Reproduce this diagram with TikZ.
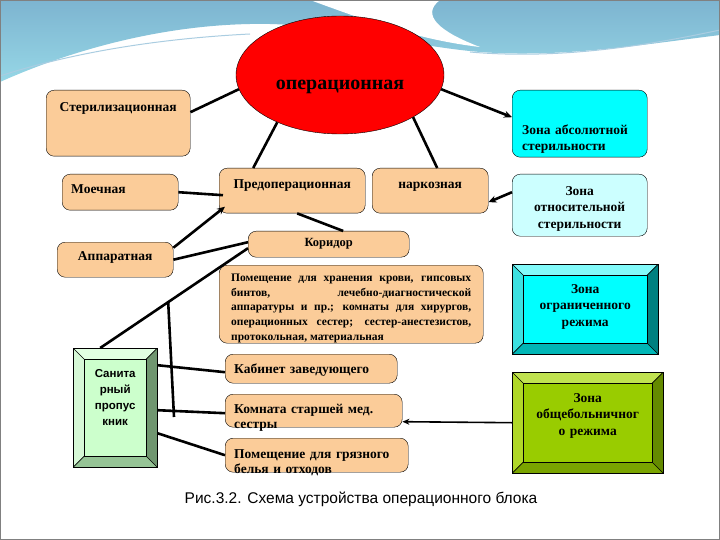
\documentclass[tikz,border=0pt]{standalone}
\usepackage{fontspec}
\setmainfont{Liberation Serif}
\setsansfont{Liberation Sans}
\usepackage{tikz}
\usetikzlibrary{arrows.meta,shapes.geometric}
\definecolor{peach}{RGB}{251,204,153}
\definecolor{zoneabs}{RGB}{0,255,255}
\definecolor{zoneotn}{RGB}{204,255,255}
\definecolor{opred}{RGB}{255,0,0}
\definecolor{wavetop}{RGB}{125,180,208}
\definecolor{wavebot}{RGB}{150,215,230}
\definecolor{waveline}{RGB}{170,205,225}
\definecolor{sanface}{RGB}{204,255,204}
\definecolor{santop}{RGB}{226,255,226}
\definecolor{sanleft}{RGB}{214,248,214}
\definecolor{sanright}{RGB}{112,150,112}
\definecolor{sanbot}{RGB}{150,196,150}
\definecolor{ogrtop}{RGB}{130,250,250}
\definecolor{ogrleft}{RGB}{60,225,225}
\definecolor{ogrright}{RGB}{0,128,128}
\definecolor{ogrbot}{RGB}{0,182,182}
\definecolor{obface}{RGB}{153,204,0}
\definecolor{obtop}{RGB}{192,226,80}
\definecolor{obleft}{RGB}{176,216,40}
\definecolor{obright}{RGB}{100,138,0}
\definecolor{obbot}{RGB}{122,164,0}
\newcommand{\boxfont}{\fontsize{13.5}{16.5}\selectfont\bfseries}
\newcommand{\smallboxfont}{\fontsize{11.5}{14.6}\selectfont\bfseries}

\begin{document}
\begin{tikzpicture}[x=1pt,y=-1pt,
    room/.style={draw=black,fill=peach,rounded corners=8pt,inner xsep=9pt,inner ysep=0pt,
      anchor=north west,font=\boxfont},
    bevel/.style n args={5}{draw=black,fill=#1,inner xsep=12pt,inner ysep=0pt,anchor=north west,
      align=center,font=\boxfont,
      path picture={
        \coordinate (nw) at (path picture bounding box.north west);
        \coordinate (ne) at (path picture bounding box.north east);
        \coordinate (sw) at (path picture bounding box.south west);
        \coordinate (se) at (path picture bounding box.south east);
        \fill[#2] (nw) -- (ne) -- ([shift={(-11pt,-11pt)}]ne) -- ([shift={(11pt,-11pt)}]nw) -- cycle;
        \fill[#3] (nw) -- ([shift={(11pt,-11pt)}]nw) -- ([shift={(11pt,11pt)}]sw) -- (sw) -- cycle;
        \fill[#4] (ne) -- (se) -- ([shift={(-11pt,11pt)}]se) -- ([shift={(-11pt,-11pt)}]ne) -- cycle;
        \fill[#5] (sw) -- ([shift={(11pt,11pt)}]sw) -- ([shift={(-11pt,11pt)}]se) -- (se) -- cycle;
        \draw[black,line width=0.6pt] ([shift={(11pt,-11pt)}]nw) rectangle ([shift={(-11pt,11pt)}]se);
        \draw[black,line width=0.6pt] (nw) -- ++(11pt,-11pt) (ne) -- ++(-11pt,-11pt)
          (sw) -- ++(11pt,11pt) (se) -- ++(-11pt,11pt);
      }},
    conn/.style={black,line width=2.6pt},
    arr/.style={-{Stealth[length=8pt,width=7pt]}}]

  \useasboundingbox (0,0) rectangle (720,540);
  \fill[white] (0,0) rectangle (720,540);
  \shade[top color=wavetop,bottom color=wavebot] (0,0) -- (720,0) -- (720,35)
    .. controls (640,45) and (560,58) .. (480,52)
    .. controls (400,45) and (330,22) .. (250,24)
    .. controls (150,26) and (60,55) .. (0,82) -- cycle;
  \fill[white] (310,0) .. controls (370,22) and (420,40) .. (480,47)
    .. controls (440,32) and (420,15) .. (440,0) -- cycle;
  \draw[waveline,line width=1pt] (0,76) .. controls (80,50) and (170,38) .. (250,34);
  \draw[waveline,line width=1pt] (470,52) .. controls (560,60) and (650,45) .. (720,30);
  \draw[gray,line width=1.2pt] (0,0) rectangle (720,540);

  \node[ellipse,draw=black,fill=opred,minimum width=208pt,minimum height=118pt,inner sep=0pt,
    text height=30pt,text depth=0pt,font=\fontsize{20}{24}\selectfont\bfseries] (oper) at (340,75) {операционная};

  \node[room,minimum width=144pt,text height=21pt,text depth=45pt] (ster) at (46,90) {Стерилизационная};
  \node[room,fill=zoneabs,inner xsep=10pt,text width=115pt,align=left,text height=44pt,text depth=23pt]
    (absol) at (512,90) {Зона абсолютной\\стерильности};
  \node[room,text width=98pt,align=left,text height=19pt,text depth=17pt] (moech) at (62,174) {Моечная};
  \node[room,minimum width=146pt,text height=20pt,text depth=25pt] (preop) at (219,168) {Предоперационная};
  \node[room,minimum width=116pt,text height=20pt,text depth=25pt] (narkoz) at (372,168) {наркозная};
  \node[room,fill=zoneotn,inner xsep=10pt,text width=115pt,align=center,text height=21pt,text depth=41pt]
    (otnos) at (512,174) {Зона\\относительной\\стерильности};
  \node[room,minimum width=161pt,text height=15.5pt,text depth=10.5pt,
    font=\fontsize{12.5}{15}\selectfont\bfseries] (korid) at (248,231) {Коридор};
  \node[room,minimum width=116pt,text height=18pt,text depth=17pt] (appar) at (57,242) {Аппаратная};
  \node[room,inner xsep=12pt,text width=240pt,align=justify,text height=16.5pt,text depth=61.5pt,
    font=\smallboxfont] (hran) at (219,265)
    {Помещение для хранения крови, гипсовых\linebreak
     бинтов, лечебно-диагностической\linebreak
     аппаратуры и пр.; комнаты для хирургов,\linebreak
     операционных сестер; сестер-анестезистов,\linebreak
     протокольная, материальная};
  \node[room,text width=154pt,align=left,text height=19pt,text depth=10pt] (kabin) at (225,354) {Кабинет заведующего};
  \node[room,text width=159pt,align=left,text height=19pt,text depth=14pt,
    font=\fontsize{13.5}{15.5}\selectfont\bfseries] (komn) at (225,394) {Комната старшей мед.\\сестры};
  \node[room,text width=165pt,align=left,text height=20pt,text depth=14pt,
    font=\fontsize{13.5}{15}\selectfont\bfseries] (gryaz) at (225,438) {Помещение для грязного\\белья и отходов};

  \node[bevel={sanface}{santop}{sanleft}{sanright}{sanbot},
    text width=60pt,text height=29pt,text depth=90pt,font=\sffamily\bfseries\fontsize{11.5}{16}\selectfont]
    (sanit) at (73,348) {Санита\\рный\\пропус\\кник};
  \node[bevel={zoneabs}{ogrtop}{ogrleft}{ogrright}{ogrbot},
    text width=122pt,text height=29pt,text depth=61pt] (ogran) at (512,264) {Зона\\ограниченного\\режима};
  \node[bevel={obface}{obtop}{obleft}{obright}{obbot},
    text width=127pt,text height=30pt,text depth=71pt] (obsch) at (512,372) {Зона\\общебольничног\\о режима};

  \node[anchor=base,font=\sffamily\fontsize{15.5}{18}\selectfont] (cap) at (361,503)
    {Рис.3.2. Схема устройства операционного блока};

  \path[conn]
    ([yshift=11pt]ster.east) edge (oper.188)
    (oper.-8) edge[arr] ([yshift=6.5pt]absol.west)
    (oper.217) edge ([xshift=-39pt]preop.north)
    (oper.-30) edge ([xshift=7pt]narkoz.north)
    (moech.east) edge ([xshift=4pt,yshift=-4.5pt]preop.west)
    ([yshift=12pt]appar.east) edge[arr] ([xshift=6pt,yshift=-16pt]preop.west)
    (appar.east) edge ([yshift=2pt]korid.west)
    ([xshift=5pt]preop.south) edge ([xshift=14.5pt]korid.north)
    ([yshift=13pt]otnos.west) edge[arr] ([yshift=-11.5pt]narkoz.east)
    ([yshift=42.5pt]sanit.east) edge ([yshift=-3.5pt]kabin.west)
    ([yshift=-2.5pt]sanit.east) edge ([yshift=-2.5pt]komn.west)
    ([yshift=-25.5pt]sanit.east) edge (gryaz.west);
  \draw[conn] ([yshift=-4pt]korid.west) -- coordinate[pos=0.54] (kj) ([xshift=-15pt]sanit.north);
  \coordinate (kend) at (174,417);
  \draw[conn] (kj) -- (kend);
  \path[black,line width=1.6pt] (obsch.west) edge[-{Stealth[length=7pt,width=6pt]}] ([yshift=-11pt]komn.east);

\end{tikzpicture}
\end{document}
